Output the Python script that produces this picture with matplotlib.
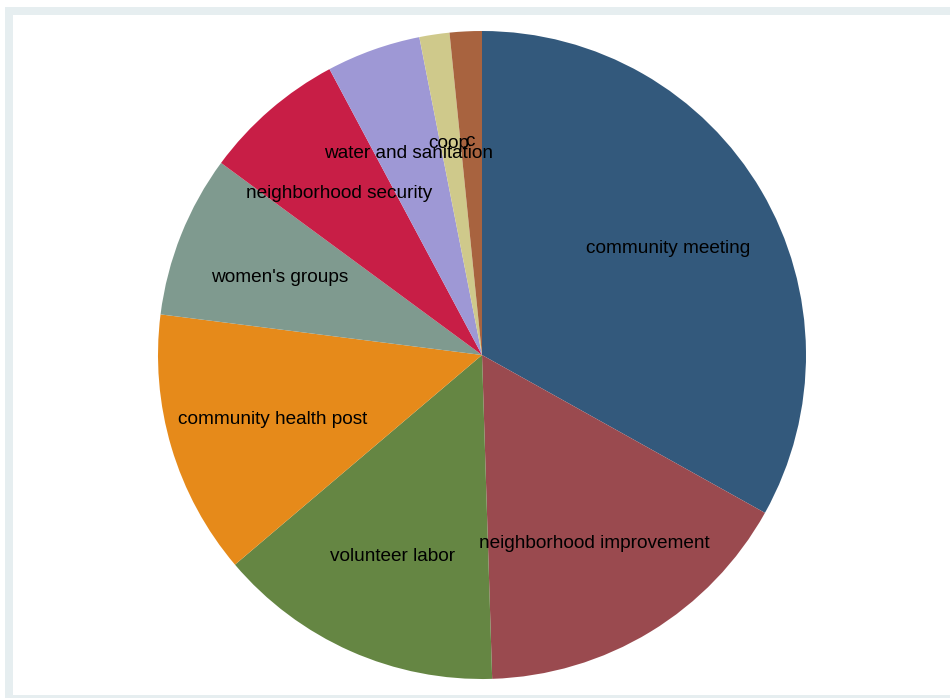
import matplotlib.pyplot as plt
from matplotlib.patches import Rectangle

# share of each activity (percent), clockwise from 12 o'clock
labels = ['community meeting', 'neighborhood improvement', 'volunteer labor',
          'community health post', "women's groups", 'neighborhood security',
          'water and sanitation', 'coop', 'c']
shares = [33.1, 16.4, 14.3, 13.2, 8.1, 7.1, 4.7, 1.5, 1.6]
colors = ['#33597c', '#9a4a4f', '#658643', '#e68a1a', '#7f9a8f',
          '#c81e46', '#9e98d5', '#cfc98b', '#a8633f']

W, H = 950, 698
fig = plt.figure(figsize=(W / 100, H / 100), dpi=100)

# Stata-ish graph region: light bluish frame, white inside
def px_rect(x0, y0, x1, y1, color):
    r = Rectangle((x0 / W, 1 - y1 / H), (x1 - x0) / W, (y1 - y0) / H,
                  transform=fig.transFigure, facecolor=color, edgecolor='none', zorder=0)
    fig.add_artist(r)

px_rect(5, 7, 970, 720, '#e6eef0')
px_rect(13, 15, 950, 695, 'white')

ax = fig.add_axes([0, 0, 1, 1])
ax.set_facecolor('none')

cx, cy, rad = 482, 355, 324

wedges, texts = ax.pie(shares, labels=labels, colors=colors, startangle=90,
                       counterclock=False, labeldistance=0.67,
                       wedgeprops=dict(linewidth=0),
                       textprops=dict(fontsize=13.7, family=['Liberation Sans', 'DejaVu Sans'],
                                      color='black'))
for t in texts:
    t.set_ha('center')
    t.set_va('center')
    x, y = t.get_position()
    t.set_position((x - 1 / rad, y - 3 / rad))

# place the circle: center (482, 355) px, radius 324 px
ax.set_xlim(-cx / rad, (W - cx) / rad)
ax.set_ylim(-(H - cy) / rad, cy / rad)
ax.set_aspect('auto')
ax.axis('off')

fig.savefig('out.png', dpi=100)
